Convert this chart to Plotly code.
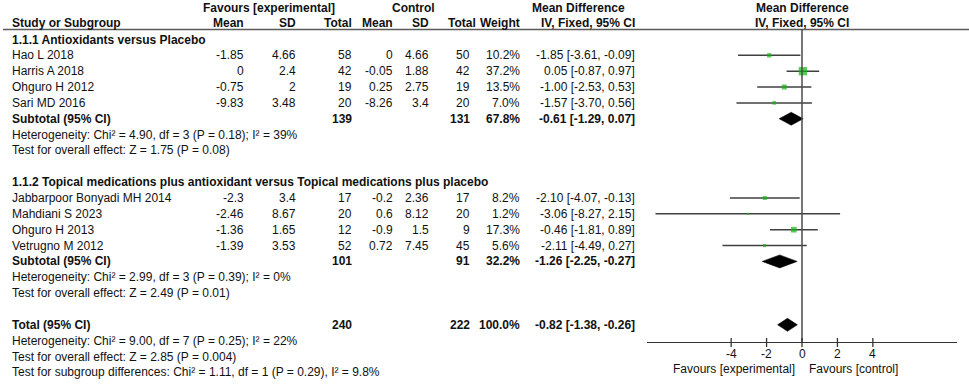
import math
import plotly.graph_objects as go

W, H = 969, 384

# ---------------- data ----------------
group_titles = ["1.1.1 Antioxidants versus Placebo",
                "1.1.2 Topical medications plus antioxidant versus Topical medications plus placebo"]

studies_g1 = ["Hao L 2018", "Harris A 2018", "Ohguro H 2012", "Sari MD 2016"]
exp_mean_g1 = [-1.85, 0, -0.75, -9.83]
exp_sd_g1 = [4.66, 2.4, 2, 3.48]
exp_n_g1 = [58, 42, 19, 20]
ctrl_mean_g1 = [0, -0.05, 0.25, -8.26]
ctrl_sd_g1 = [4.66, 1.88, 2.75, 3.4]
ctrl_n_g1 = [50, 42, 19, 20]
weight_g1 = [10.2, 37.2, 13.5, 7.0]
md_g1 = [-1.85, 0.05, -1.00, -1.57]
lo_g1 = [-3.61, -0.87, -2.53, -3.70]
hi_g1 = [-0.09, 0.97, 0.53, 0.56]

studies_g2 = ["Jabbarpoor Bonyadi MH 2014", "Mahdiani S 2023", "Ohguro H 2013", "Vetrugno M 2012"]
exp_mean_g2 = [-2.3, -2.46, -1.36, -1.39]
exp_sd_g2 = [3.4, 8.67, 1.65, 3.53]
exp_n_g2 = [17, 20, 12, 52]
ctrl_mean_g2 = [-0.2, 0.6, -0.9, 0.72]
ctrl_sd_g2 = [2.36, 8.12, 1.5, 7.45]
ctrl_n_g2 = [17, 20, 9, 45]
weight_g2 = [8.2, 1.2, 17.3, 5.6]
md_g2 = [-2.10, -3.06, -0.46, -2.11]
lo_g2 = [-4.07, -8.27, -1.81, -4.49]
hi_g2 = [-0.13, 2.15, 0.89, 0.27]

sub_exp_n = [139, 101]
sub_ctrl_n = [131, 91]
sub_weight = [67.8, 32.2]
sub_md = [-0.61, -1.26]
sub_lo = [-1.29, -2.25]
sub_hi = [0.07, -0.27]
het_texts = ["Heterogeneity: Chi² = 4.90, df = 3 (P = 0.18); I² = 39%",
             "Heterogeneity: Chi² = 2.99, df = 3 (P = 0.39); I² = 0%"]
effect_texts = ["Test for overall effect: Z = 1.75 (P = 0.08)",
                "Test for overall effect: Z = 2.49 (P = 0.01)"]

total_exp_n = 240
total_ctrl_n = 222
total_weight = 100.0
total_md = -0.82
total_lo = -1.38
total_hi = -0.26
total_het = "Heterogeneity: Chi² = 9.00, df = 7 (P = 0.25); I² = 22%"
total_effect = "Test for overall effect: Z = 2.85 (P = 0.004)"
subgroup_diff = "Test for subgroup differences: Chi² = 1.11, df = 1 (P = 0.29), I² = 9.8%"

tick_vals = [-4, -2, 0, 2, 4]
tick_text = ["-4", "-2", "0", "2", "4"]
x_range = [-8.75, 8.75]

groups = [
    dict(title=group_titles[0], names=studies_g1, em=exp_mean_g1, esd=exp_sd_g1, en=exp_n_g1,
         cm=ctrl_mean_g1, csd=ctrl_sd_g1, cn=ctrl_n_g1, w=weight_g1, md=md_g1, lo=lo_g1, hi=hi_g1),
    dict(title=group_titles[1], names=studies_g2, em=exp_mean_g2, esd=exp_sd_g2, en=exp_n_g2,
         cm=ctrl_mean_g2, csd=ctrl_sd_g2, cn=ctrl_n_g2, w=weight_g2, md=md_g2, lo=lo_g2, hi=hi_g2),
]

# ---------------- layout geometry (pixels) ----------------
ROW0, DY = 39.5, 15.85
HEAD1_Y, HEAD2_Y, HLINE_Y = 7.5, 23, 29.5
AXIS_Y = 342
TICKLAB_Y = 354
FAV_Y = 369
FONT = "Liberation Sans, Arial, sans-serif"
FS = 12
TXT = "#111111"
PLOT_L, PLOT_R = 647, 957

X_NAME = 11
X_EM, X_ESD, X_EN = 245, 297, 353
X_CM, X_CSD, X_CN, X_CN_HEAD = 394, 430, 471, 477
X_W, X_CI = 521, 636

def yrow(k):
    return ROW0 + DY * k

annotations = []

def txt(x, y, s, anchor="left", bold=False, xref="paper"):
    annotations.append(dict(
        x=(x / W) if xref == "paper" else x, y=y, xref=xref, yref="y",
        text=("<b>%s</b>" % s) if bold else s, showarrow=False,
        xanchor=anchor, yanchor="middle",
        font=dict(family=FONT, size=FS, color=TXT), borderpad=0))

def num(v):
    return ("%g" % v)

def ci(m, l, h):
    return "%.2f [%.2f, %.2f]" % (m, l, h)

# headers
txt(269, HEAD1_Y, "Favours [experimental]", "center", True)
txt(413, HEAD1_Y, "Control", "center", True)
txt(578, HEAD1_Y, "Mean Difference", "center", True)
txt(X_NAME, HEAD2_Y, "Study or Subgroup", "left", True)
txt(X_EM, HEAD2_Y, "Mean", "right", True)
txt(X_ESD, HEAD2_Y, "SD", "right", True)
txt(X_EN, HEAD2_Y, "Total", "right", True)
txt(X_CM, HEAD2_Y, "Mean", "right", True)
txt(X_CSD, HEAD2_Y, "SD", "right", True)
txt(X_CN_HEAD, HEAD2_Y, "Total", "right", True)
txt(X_W, HEAD2_Y, "Weight", "right", True)
txt(X_CI, HEAD2_Y, "IV, Fixed, 95% CI", "right", True)

# forest plot headers (centered on 0)
txt(0, HEAD1_Y, "Mean Difference", "center", True, xref="x")
txt(0, HEAD2_Y, "IV, Fixed, 95% CI", "center", True, xref="x")

wh_x, wh_y = [], []
sq_x, sq_y, sq_s = [], [], []
diamonds = []

k = 0
for gi, g in enumerate(groups):
    txt(X_NAME, yrow(k), g["title"], "left", True)
    k += 1
    for i, name in enumerate(g["names"]):
        y = yrow(k)
        txt(X_NAME, y, name)
        txt(X_EM, y, num(g["em"][i]), "right")
        txt(X_ESD, y, num(g["esd"][i]), "right")
        txt(X_EN, y, num(g["en"][i]), "right")
        txt(X_CM, y, num(g["cm"][i]), "right")
        txt(X_CSD, y, num(g["csd"][i]), "right")
        txt(X_CN, y, num(g["cn"][i]), "right")
        txt(X_W, y, "%.1f%%" % g["w"][i], "right")
        txt(X_CI, y, ci(g["md"][i], g["lo"][i], g["hi"][i]), "right")
        wh_x += [g["lo"][i], g["hi"][i], None]
        wh_y += [y, y, None]
        sq_x.append(g["md"][i]); sq_y.append(y)
        sq_s.append(max(2.0, 1.36 * math.sqrt(g["w"][i])))
        k += 1
    y = yrow(k)
    txt(X_NAME, y, "Subtotal (95% CI)", "left", True)
    txt(X_EN, y, str(sub_exp_n[gi]), "right", True)
    txt(X_CN, y, str(sub_ctrl_n[gi]), "right", True)
    txt(X_W, y, "%.1f%%" % sub_weight[gi], "right", True)
    txt(X_CI, y, ci(sub_md[gi], sub_lo[gi], sub_hi[gi]), "right", True)
    diamonds.append((sub_md[gi], sub_lo[gi], sub_hi[gi], y))
    k += 1
    txt(X_NAME, yrow(k), het_texts[gi]); k += 1
    txt(X_NAME, yrow(k), effect_texts[gi]); k += 1
    k += 1  # blank row

y = yrow(k)
txt(X_NAME, y, "Total (95% CI)", "left", True)
txt(X_EN, y, str(total_exp_n), "right", True)
txt(X_CN, y, str(total_ctrl_n), "right", True)
txt(X_W, y, "%.1f%%" % total_weight, "right", True)
txt(X_CI, y, ci(total_md, total_lo, total_hi), "right", True)
diamonds.append((total_md, total_lo, total_hi, y))
k += 1
txt(X_NAME, yrow(k), total_het); k += 1
txt(X_NAME, yrow(k), total_effect); k += 1
txt(X_NAME, yrow(k), subgroup_diff); k += 1

# tick labels and favours labels under the axis
for tv, tt in zip(tick_vals, tick_text):
    txt(tv, TICKLAB_Y, tt, "center", xref="x")
fx0 = PLOT_L + (0 - x_range[0]) / (x_range[1] - x_range[0]) * (PLOT_R - PLOT_L)
txt(fx0 - 6, FAV_Y, "Favours [experimental]", "right")
txt(fx0 + 6, FAV_Y, "Favours [control]", "left")

fig = go.Figure()

# whiskers
fig.add_trace(go.Scatter(x=wh_x, y=wh_y, mode="lines",
                         line=dict(color="#404040", width=1.5),
                         hoverinfo="skip", showlegend=False))
# squares
fig.add_trace(go.Scatter(x=sq_x, y=sq_y, mode="markers",
                         marker=dict(symbol="square", size=sq_s, color="#10b810",
                                     line=dict(width=0)),
                         showlegend=False))
# diamonds
DH = 6.5
for (m, l, h, y) in diamonds:
    fig.add_trace(go.Scatter(x=[l, m, h, m, l], y=[y, y - DH, y, y + DH, y],
                             mode="lines", fill="toself", fillcolor="#000000",
                             line=dict(color="#000000", width=0.5),
                             hoverinfo="skip", showlegend=False))

shapes = []
# header rule
shapes.append(dict(type="line", xref="paper", yref="y", x0=3 / W, x1=1, y0=HLINE_Y, y1=HLINE_Y,
                   line=dict(color="#5a5a5a", width=1.5)))
# zero line
shapes.append(dict(type="line", xref="x", yref="y", x0=0, x1=0, y0=HLINE_Y, y1=AXIS_Y,
                   line=dict(color="#4a4a4a", width=1.5)))
# crossing tick marks
for tv in tick_vals:
    shapes.append(dict(type="line", xref="x", yref="y", x0=tv, x1=tv, y0=AXIS_Y - 4, y1=AXIS_Y + 5,
                       line=dict(color="#333333", width=1.3)))

fig.update_layout(
    width=W, height=H,
    margin=dict(l=0, r=0, t=0, b=0),
    paper_bgcolor="white", plot_bgcolor="white",
    showlegend=False,
    annotations=annotations,
    shapes=shapes,
    xaxis=dict(domain=[PLOT_L / W, PLOT_R / W], range=x_range, anchor="free",
               position=1 - AXIS_Y / H, showline=True, linecolor="#333333", linewidth=1.3,
               ticks="", showticklabels=False, showgrid=False, zeroline=False,
               fixedrange=True),
    yaxis=dict(domain=[0, 1], range=[H, 0], visible=False, showgrid=False,
               zeroline=False, fixedrange=True),
)

fig.write_html("out.html",
               config={"displayModeBar": False},
               post_script="document.body.style.margin='0px';document.body.style.overflow='hidden';")
